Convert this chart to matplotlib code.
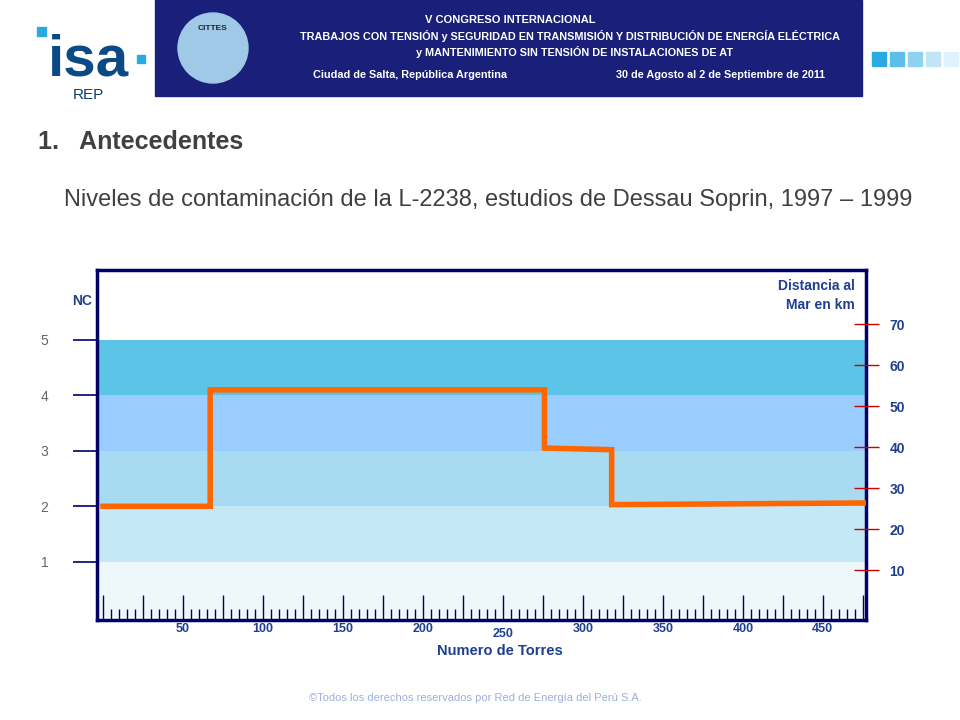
import matplotlib
matplotlib.use("Agg")
import matplotlib.pyplot as plt
from matplotlib.patches import Rectangle, Circle

plt.rcParams["font.family"] = "Liberation Sans"

# Data
torres = [0, 67, 67, 276, 276, 318, 318, 477]
nc = [2.0, 2.0, 4.1, 4.1, 3.05, 3.02, 2.03, 2.06]
nc_ticks = [1, 2, 3, 4, 5]
x_ticks = [50, 100, 150, 200, 250, 300, 350, 400, 450]
dist_ticks = [10, 20, 30, 40, 50, 60, 70]
band_edges = [0, 1, 2, 3, 4, 5]
band_colors = ["#eef8fb", "#c4e8f5", "#a8dbf2", "#99ccff", "#5bc4e7"]

navy = "#000066"
lab = "#1f3f8f"

fig = plt.figure(figsize=(9.6, 7.2), dpi=100)

# Header
hdr = fig.add_axes([0, 0, 1, 1]); hdr.set_xlim(0, 960); hdr.set_ylim(720, 0); hdr.axis("off")
hdr.add_patch(Rectangle((155, 0), 707, 96, color="#1a1f7a"))
hdr.add_patch(Circle((213, 48), 35, color="#9fc9e6"))
hdr.text(213, 30, "CITTES", ha="center", fontsize=6, weight="bold", color="#222")
hdr.text(510, 20, "V CONGRESO INTERNACIONAL", ha="center", va="center", fontsize=8, weight="bold", color="white")
hdr.text(570, 36, "TRABAJOS CON TENSIÓN y SEGURIDAD EN TRANSMISIÓN Y DISTRIBUCIÓN DE ENERGÍA ELÉCTRICA", ha="center", va="center", fontsize=7.8, weight="bold", color="white")
hdr.text(575, 52, "y MANTENIMIENTO SIN TENSIÓN DE INSTALACIONES DE AT", ha="center", va="center", fontsize=7.8, weight="bold", color="white")
hdr.text(410, 75, "Ciudad de Salta, República Argentina", ha="center", va="center", fontsize=7.8, weight="bold", color="white")
hdr.text(720, 75, "30 de Agosto al 2 de Septiembre de 2011", ha="center", va="center", fontsize=7.8, weight="bold", color="white")
hdr.text(88, 60, "isa", ha="center", va="center", fontsize=42, weight="bold", color="#0c4a86")
hdr.add_patch(Rectangle((137, 55), 8, 8, color="#29abe2"))
hdr.add_patch(Rectangle((37, 27), 9, 9, color="#29abe2"))
hdr.text(88, 95, "REP", ha="center", va="center", fontsize=11, color="#0c3f73")
for i, c in enumerate(["#29abe2", "#5bbfe9", "#8ed2ef", "#c0e5f6", "#e0f2fb"]):
    hdr.add_patch(Rectangle((872 + i * 18, 52), 14, 14, color=c))
hdr.text(38, 142, "1.   Antecedentes", fontsize=18, weight="bold", color="#404040", va="center")
hdr.text(488, 200, "Niveles de contaminación de la L-2238, estudios de Dessau Soprin, 1997 – 1999",
         ha="center", va="center", fontsize=17, color="#404040")
hdr.text(475, 698, "©Todos los derechos reservados por Red de Energía del Perú S.A.", ha="center",
         va="center", fontsize=8, color="#9ab0d8")

# Main chart
ax = fig.add_axes([97/960, 1-620/720, 769/960, 350/720])
ax.set_xlim(-3.75, 477)
ax.set_ylim(-0.05, 6.26)
for i in range(len(band_colors)):
    ax.axhspan(band_edges[i], band_edges[i+1], color=band_colors[i], lw=0, zorder=0)
ax.plot(torres, nc, color="#ff6600", lw=4, solid_joinstyle="miter", zorder=3)
for s in ax.spines.values():
    s.set_color(navy); s.set_linewidth(2.5)
ax.set_yticks(nc_ticks)
ax.set_yticklabels([str(v) for v in nc_ticks], color="#666666", fontsize=10)
ax.tick_params(axis="y", direction="out", length=17, width=1.2, color=navy, pad=18)
ax.set_xticks([v for v in range(0, 476, 25)])
ax.set_xticks([v for v in range(0, 476, 5)], minor=True)
ax.tick_params(axis="x", which="major", direction="in", length=18, width=1, color=navy, labelbottom=False)
ax.tick_params(axis="x", which="minor", direction="in", length=8, width=1, color=navy)
for v in x_ticks:
    ax.text(v, -0.22 if v != 250 else -0.3, str(v), ha="center", va="center", fontsize=9,
            weight="bold", color=lab)
ax.text((500-103)/1.6, -0.6, "Numero de Torres", ha="center", va="center", fontsize=10.5, weight="bold", color=lab)
ax.text(-13, 5.7, "NC", ha="center", va="center", fontsize=10, weight="bold", color=lab)
ax.text(470, 5.8, "Distancia al\nMar en km", ha="right", va="center", fontsize=10, weight="bold",
        color=lab, linespacing=1.4)

ax2 = ax.twinx()
ax2.set_ylim(-2.2, 83.2)
ax2.set_yticks(dist_ticks)
ax2.set_yticklabels([str(v) for v in dist_ticks], fontsize=10, weight="bold", color=lab)
ax2.tick_params(axis="y", direction="inout", length=18, width=1, color="#cc0000", pad=8)
for s in ax2.spines.values():
    s.set_visible(False)

fig.savefig("out.png", dpi=100)
